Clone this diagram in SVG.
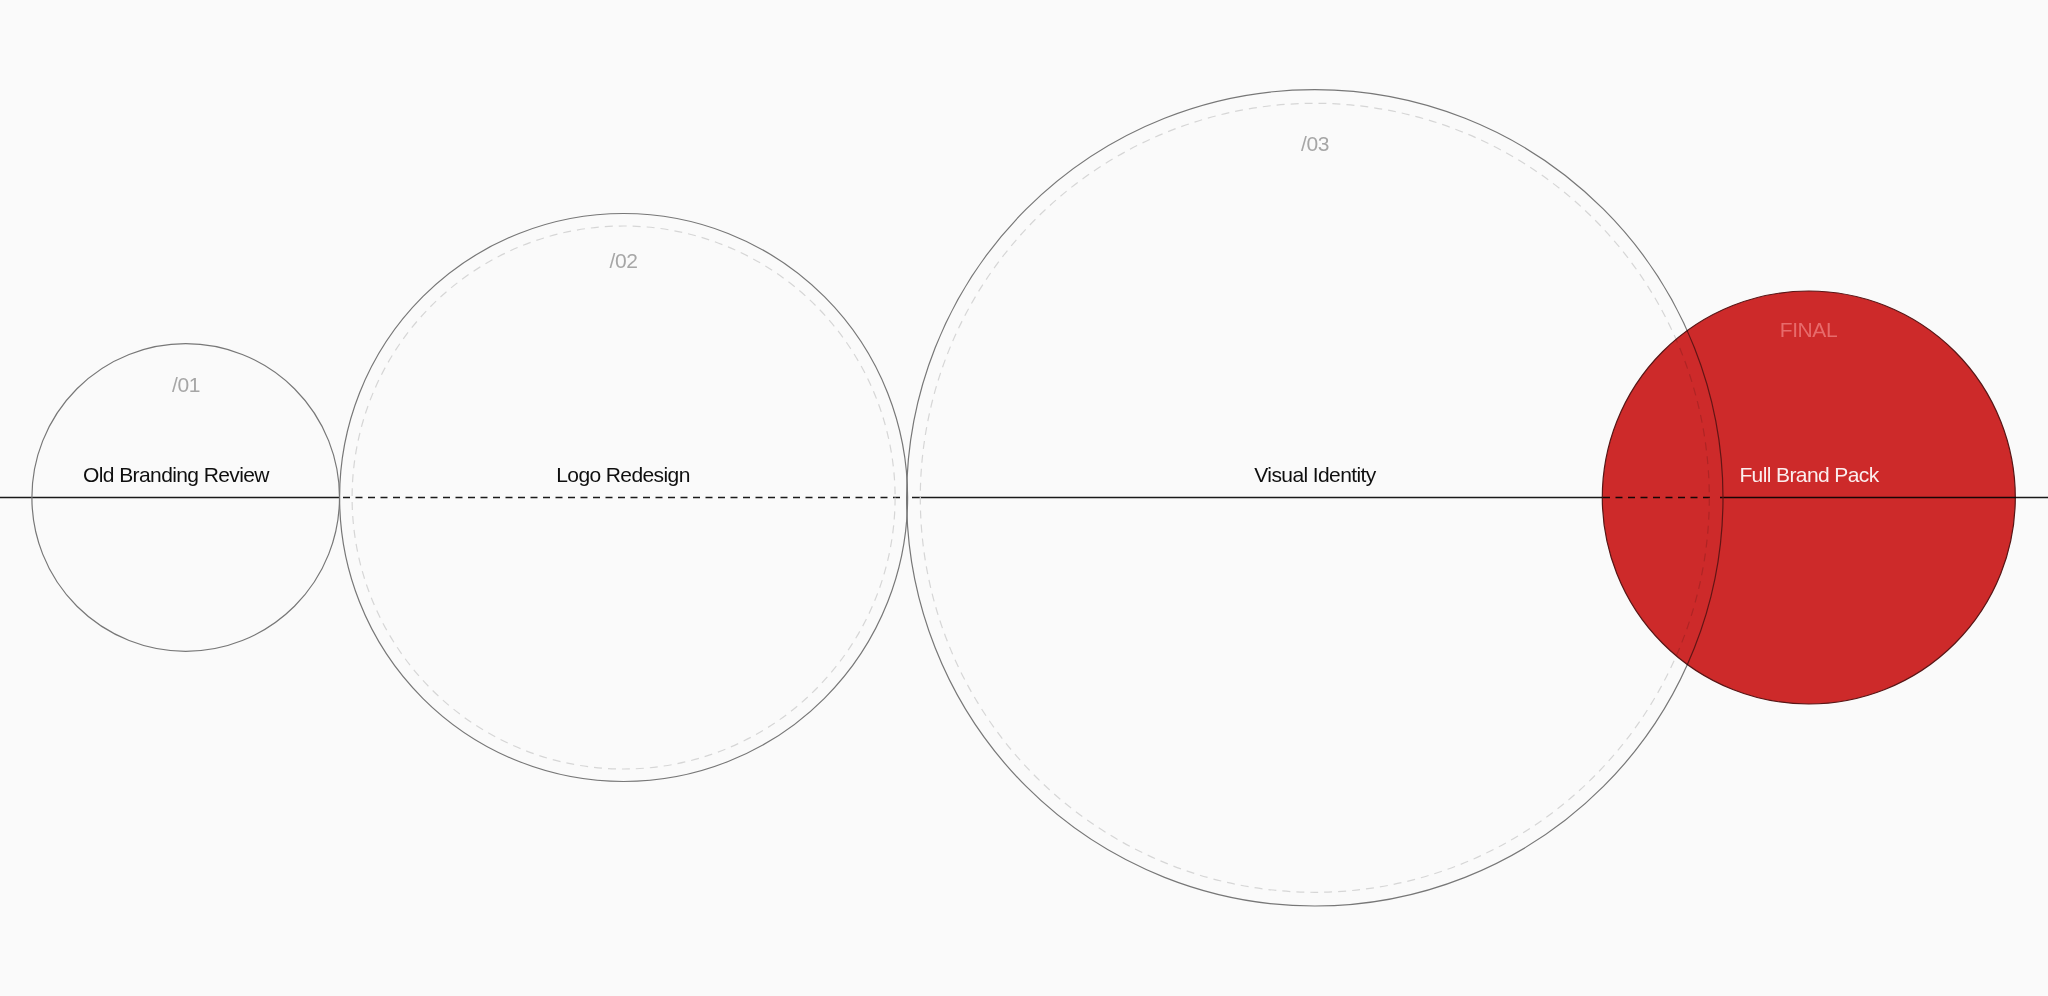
<svg xmlns="http://www.w3.org/2000/svg" width="2048" height="996" viewBox="0 0 2048 996">
<style>
.bg{fill:#fafafa}
.ring{fill:none;stroke:#777777;stroke-width:1.2}
.inner{fill:none;stroke:#d6d6d6;stroke-width:1.2;stroke-dasharray:8 6}
.solid{stroke:#1a1a1a;stroke-width:1.5;fill:none}
.dash{stroke:#1a1a1a;stroke-width:1.5;fill:none;stroke-dasharray:7 5.5}
.red{fill:#d12a2a;stroke:#5a1616;stroke-width:1.2;mix-blend-mode:multiply}
.lbl{font-family:"Liberation Sans",Arial,sans-serif;font-size:21px;letter-spacing:-0.6px;fill:#0f0f0f;text-anchor:middle}
.num{font-family:"Liberation Sans",Arial,sans-serif;font-size:21px;letter-spacing:-0.4px;fill:#a6a6a6;text-anchor:middle}
.lblw{fill:#fbeeee}
.numr{fill:#e76b6b}
</style>
<rect class="bg" x="0" y="0" width="2048" height="996"/>
<g id="connectors">
<line class="solid" x1="0" y1="497.5" x2="339.5" y2="497.5"/>
<line class="dash" x1="343" y1="497.5" x2="903" y2="497.5"/>
<line class="solid" x1="912" y1="497.5" x2="1602.5" y2="497.5"/>
<line class="dash" x1="1603" y1="497.5" x2="1715" y2="497.5"/>
<line class="solid" x1="1720" y1="497.5" x2="2048" y2="497.5"/>
</g>
<g id="node-01">
<circle class="ring" cx="185.7" cy="497.5" r="153.8"/>
<text class="num" x="186" y="391.7">/01</text>
<text class="lbl" x="176" y="482">Old Branding Review</text>
</g>
<g id="node-02">
<circle class="ring" cx="623.6" cy="497.5" r="284"/>
<circle class="inner" cx="623.6" cy="497.5" r="271.5"/>
<text class="num" x="623.5" y="268.3">/02</text>
<text class="lbl" x="623" y="482">Logo Redesign</text>
</g>
<g id="node-03">
<circle class="ring" cx="1314.8" cy="497.8" r="408.2"/>
<circle class="inner" cx="1314.8" cy="497.8" r="394.5"/>
<text class="num" x="1315" y="150.7">/03</text>
<text class="lbl" x="1315" y="482">Visual Identity</text>
</g>
<g id="node-final">
<circle class="red" cx="1808.8" cy="497.5" r="206.5"/>
<text class="num numr" x="1808.5" y="337.3">FINAL</text>
<text class="lbl lblw" x="1809" y="482">Full Brand Pack</text>
</g>
</svg>
